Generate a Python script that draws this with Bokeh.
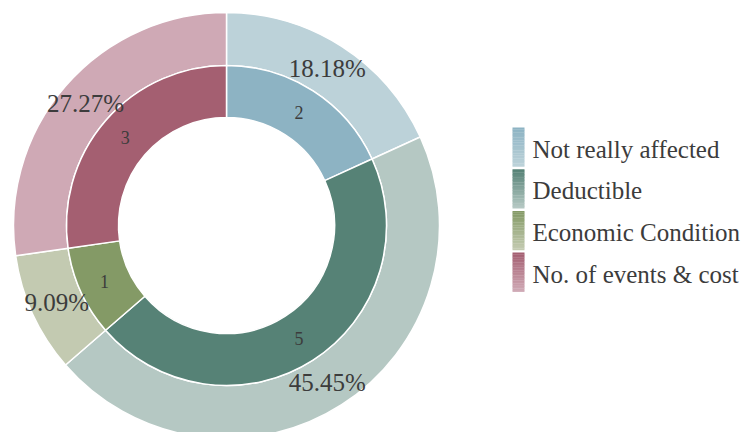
import numpy as np
from bokeh.plotting import figure
from bokeh.models import Range1d
from bokeh.core.properties import value
from bokeh.embed import file_html
from bokeh.resources import INLINE

# ---- data ----
categories = ["Not really affected", "Deductible", "Economic Condition", "No. of events & cost"]
counts = [2, 5, 1, 3]
percent_labels = ["18.18%", "45.45%", "9.09%", "27.27%"]
inner_colors = ["#8db3c3", "#568276", "#849a66", "#a45f71"]
outer_colors = ["#bcd2d9", "#b5c8c3", "#c3cab1", "#cfa9b5"]

W, H = 751, 432
p = figure(width=W, height=H, x_range=Range1d(0, W), y_range=Range1d(0, H),
           output_backend="svg", toolbar_location=None, min_border=0)
p.axis.visible = False
p.grid.visible = False
p.outline_line_color = None
p.background_fill_color = "white"

cx, cy = 226, H - 225
r_hole, r_mid, r_out = 108, 160, 213

vals = np.array(counts, dtype=float)
frac = vals / vals.sum()
cum_end = np.cumsum(frac)
cum_start = cum_end - frac
start = np.pi / 2 - cum_end * 2 * np.pi
end = np.pi / 2 - cum_start * 2 * np.pi
mid = (start + end) / 2

FONT = value("'Liberation Serif'")
TXT = "#3c3c3c"

# outer ring
p.annular_wedge(x=cx, y=cy, inner_radius=r_mid, outer_radius=r_out,
                start_angle=list(start), end_angle=list(end),
                fill_color=outer_colors, line_color="white", line_width=1.5)
# inner ring
p.annular_wedge(x=cx, y=cy, inner_radius=r_hole, outer_radius=r_mid,
                start_angle=list(start), end_angle=list(end),
                fill_color=inner_colors, line_color="white", line_width=1.5)

# labels
rm_in = (r_hole + r_mid) / 2
rm_out = (r_mid + r_out) / 2
p.text(x=list(cx + rm_in * np.cos(mid)), y=list(cy + rm_in * np.sin(mid)),
       text=[str(c) for c in counts], text_font=FONT, text_font_size=value("18px"),
       text_color=TXT, text_align="center", text_baseline="middle")
p.text(x=list(cx + rm_out * np.cos(mid)), y=list(cy + rm_out * np.sin(mid)),
       text=percent_labels, text_font=FONT, text_font_size=value("25px"),
       text_color=TXT, text_align="center", text_baseline="middle")

# legend (manual, gradient swatches)
lx0, lx1 = 512, 524
top0, box_h, step = 127, 39, 41.7
nstrip = 24
for i, cat in enumerate(categories):
    t = top0 + i * step
    c0 = np.array([int(inner_colors[i][k:k + 2], 16) for k in (1, 3, 5)])
    c1 = np.array([int(outer_colors[i][k:k + 2], 16) for k in (1, 3, 5)])
    tops, bots, cols = [], [], []
    for s in range(nstrip):
        f = s / (nstrip - 1)
        c = (c0 * (1 - f) + c1 * f).round().astype(int)
        cols.append("#%02x%02x%02x" % tuple(c))
        tops.append(H - (t + s * box_h / nstrip))
        bots.append(H - (t + (s + 1) * box_h / nstrip) - 0.3)
    p.quad(left=lx0, right=lx1, top=tops, bottom=bots, fill_color=cols, line_color=None)
    p.text(x=[532], y=[H - (t + box_h / 2 + 2)], text=[cat], text_font=FONT,
           text_font_size=value("25px"), text_color=TXT, text_align="left",
           text_baseline="middle")

open("out.html", "w").write(file_html(p, INLINE))
